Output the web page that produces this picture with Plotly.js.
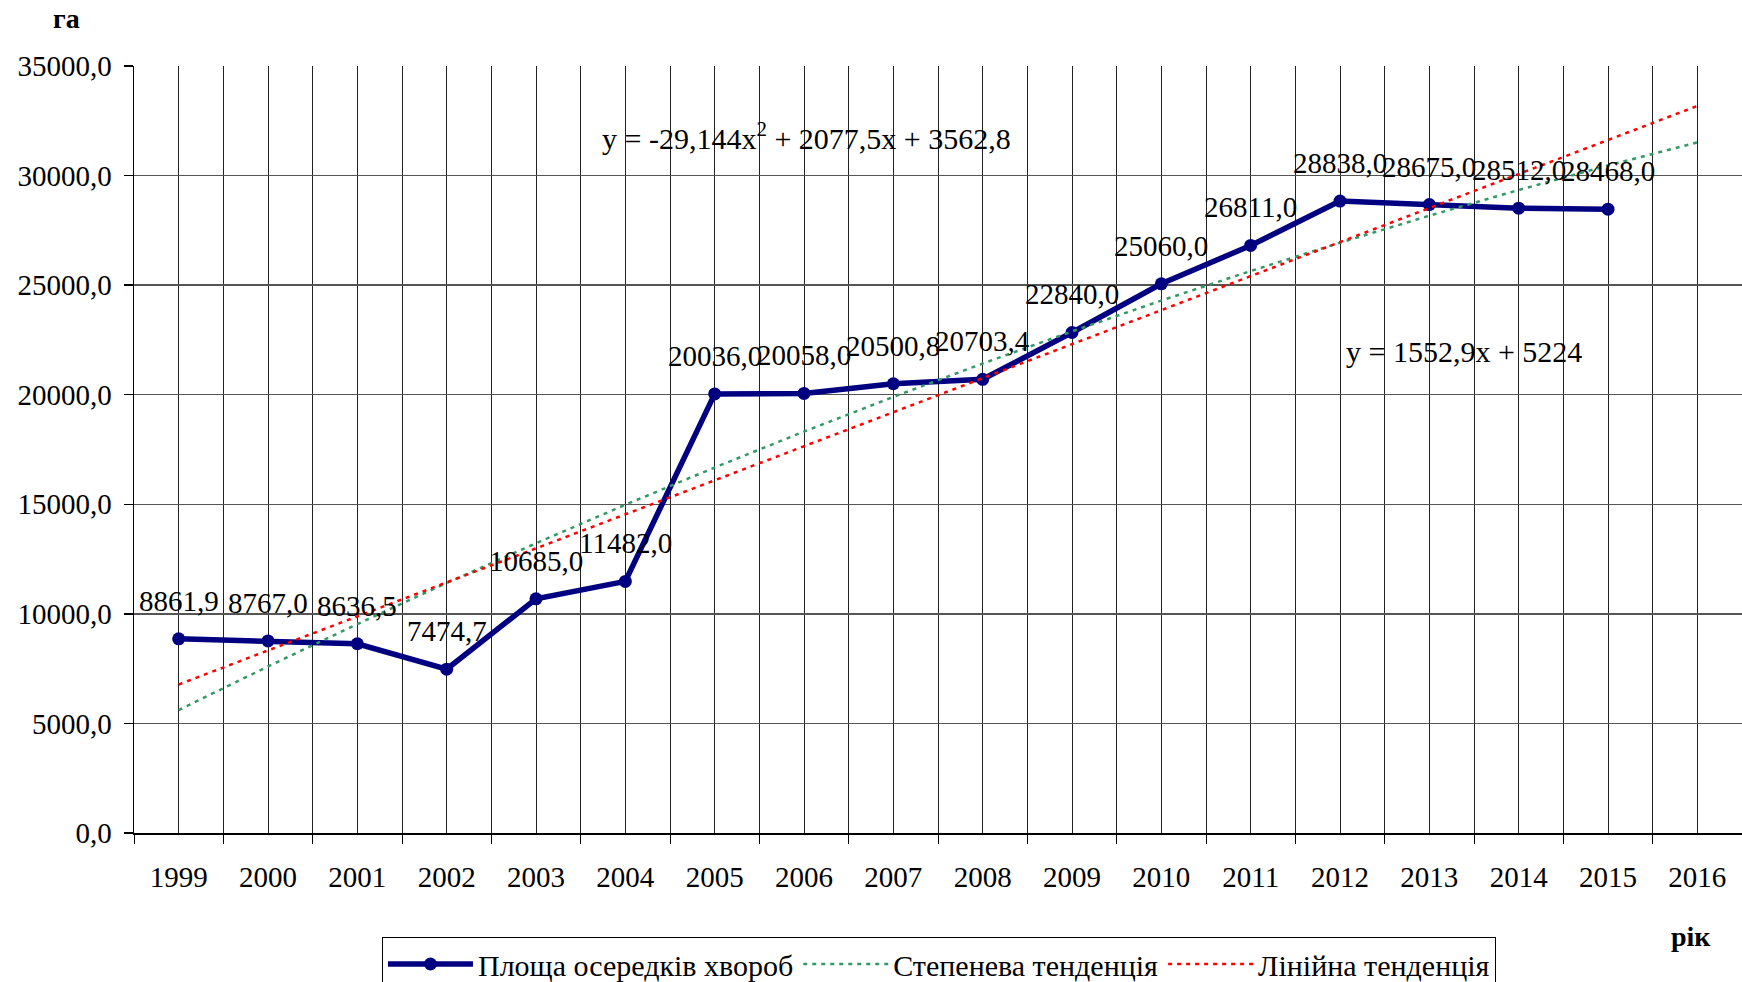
<!DOCTYPE html>
<html>
<head>
<meta charset="utf-8">
<script src="https://cdn.plot.ly/plotly-3.0.1.min.js"></script>
<style>html,body{margin:0;padding:0;background:#fff;}#chart{width:1742px;height:982px;}</style>
</head>
<body>
<div id="chart"></div>
<script>
var years = [1999,2000,2001,2002,2003,2004,2005,2006,2007,2008,2009,2010,2011,2012,2013,2014,2015,2016];
var dataYears = [1999,2000,2001,2002,2003,2004,2005,2006,2007,2008,2009,2010,2011,2012,2013,2014,2015];
var area = [8861.9,8767.0,8636.5,7474.7,10685.0,11482.0,20036.0,20058.0,20500.8,20703.4,22840.0,25060.0,26811.0,28838.0,28675.0,28512.0,28468.0];
var powerTrend = [5611,7601,9533,11407,13222,14979,16677,18318,19900,21423,22889,24296,25645,26936,28168,29342,30458,31515];
var linearTrend = [6777,8330,9883,11436,12989,14541,16094,17647,19200,20753,22306,23859,25412,26965,28518,30070,31623,33176];
var seriesNames = ["Площа осередків хвороб","Степенева тенденція","Лінійна тенденція"];
var eqPoly = "y = -29,144x<sup>2</sup> + 2077,5x + 3562,8";
var eqLin = "y = 1552,9x + 5224";
var yTitle = "га";
var xTitle = "рік";

var FONT = "Liberation Serif, Times New Roman, serif";
function fmt(v){ return v.toFixed(1).replace(".", ","); }

var W = 1742, H = 982, L = 134, T = 66, B = 149, R = 0;
var pw = W - L - R, ph = H - T - B;

var traces = [
  {x: dataYears, y: area, name: seriesNames[0], type: "scatter", mode: "lines+markers",
   line: {color: "#000080", width: 5.5}, marker: {color: "#000080", size: 13}},
  {x: years, y: powerTrend, name: seriesNames[1], type: "scatter", mode: "lines",
   line: {color: "rgb(51,153,102)", width: 2.5, dash: "4px,5px"}},
  {x: years, y: linearTrend, name: seriesNames[2], type: "scatter", mode: "lines",
   line: {color: "#ff0000", width: 2.5, dash: "4px,5px"}}
];

var annotations = dataYears.map(function(yr, i){
  return {x: yr, y: area[i], xref: "x", yref: "y", text: fmt(area[i]), showarrow: false,
          yshift: 38, font: {family: FONT, size: 29, color: "#000"}};
});
annotations.push({x: 2003.72, y: 31785, xref: "x", yref: "y", xanchor: "left", yanchor: "middle",
  text: eqPoly, showarrow: false, font: {family: FONT, size: 30, color: "#000"}});
annotations.push({x: 2012.05, y: 21966, xref: "x", yref: "y", xanchor: "left", yanchor: "middle",
  text: eqLin, showarrow: false, font: {family: FONT, size: 30, color: "#000"}});
annotations.push({x: (66 - L) / pw, y: (H - B - 18) / ph, xref: "paper", yref: "paper",
  xanchor: "center", yanchor: "middle",
  text: "<b>" + yTitle + "</b>", showarrow: false, font: {family: FONT, size: 28, color: "#000"}});
annotations.push({x: (1691 - L) / pw, y: (H - B - 936) / ph, xref: "paper", yref: "paper",
  xanchor: "center", yanchor: "middle",
  text: "<b>" + xTitle + "</b>", showarrow: false, font: {family: FONT, size: 28, color: "#000"}});

var layout = {
  width: W, height: H,
  margin: {l: L, r: R, t: T, b: B, pad: 0, autoexpand: false},
  paper_bgcolor: "#fff", plot_bgcolor: "#fff",
  separators: ", ",
  font: {family: FONT, size: 29, color: "#000"},
  showlegend: true,
  legend: {orientation: "h", x: 0.5006, xanchor: "center", y: (H - B - 937) / ph, yanchor: "top",
           bordercolor: "#000", borderwidth: 1, bgcolor: "#fff",
           font: {family: FONT, size: 30, color: "#000"}, itemwidth: 85, tracegroupgap: 0},
  xaxis: {
    range: [1998.5, 2016.5], tickmode: "array", tickvals: years, ticktext: years.map(String),
    showgrid: true, gridcolor: "#222", gridwidth: 1, ticks: "", zeroline: false,
    showline: true, linecolor: "#000", linewidth: 1.5, ticklabelstandoff: 18,
    minor: {tick0: 1998.5, dtick: 1, showgrid: true, gridcolor: "#222", gridwidth: 1,
            ticks: "outside", ticklen: 9, tickcolor: "#000", tickwidth: 1}
  },
  yaxis: {
    range: [0, 35000], dtick: 5000, tick0: 0, tickformat: ".1f",
    showgrid: true, gridcolor: "#555", gridwidth: 1.5, zeroline: false,
    showline: true, linecolor: "#000", linewidth: 1.5, ticklabelstandoff: 6,
    ticks: "outside", ticklen: 9, tickcolor: "#000", tickwidth: 1.5
  },
  annotations: annotations
};

Plotly.newPlot("chart", traces, layout, {displayModeBar: false, staticPlot: true});
</script>
</body>
</html>
